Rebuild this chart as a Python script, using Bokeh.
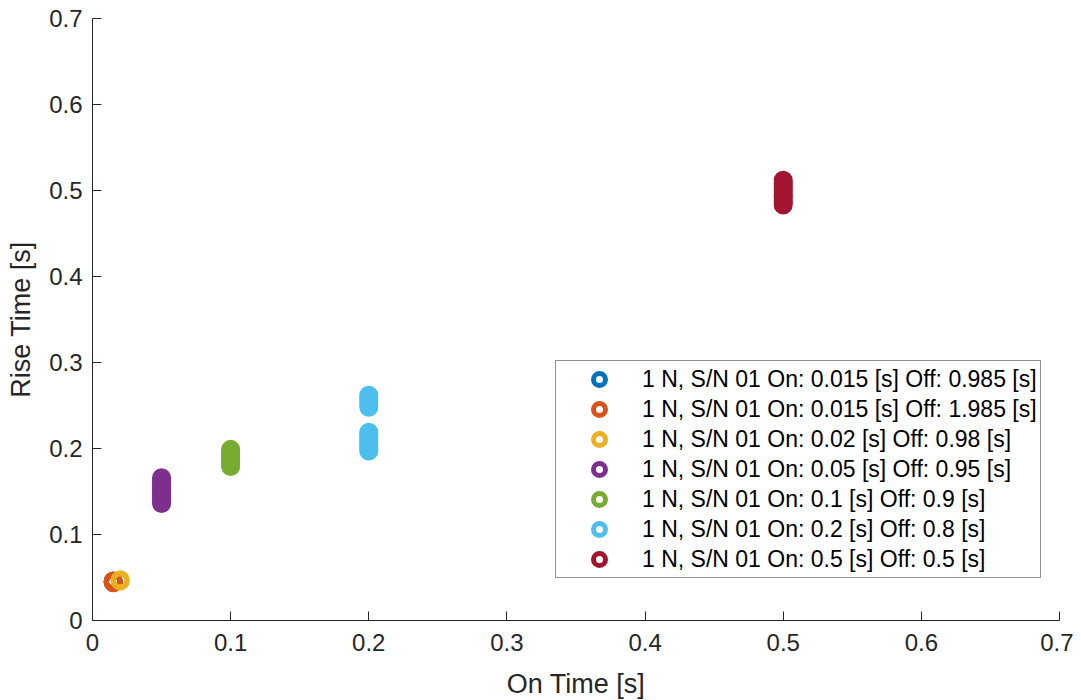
from bokeh.plotting import figure
from bokeh.models import Range1d, FixedTicker, Legend, LegendItem
from bokeh.embed import file_html
from bokeh.resources import INLINE

# ---- data ----
series_labels = [
    "1 N, S/N 01 On: 0.015 [s] Off: 0.985 [s]",
    "1 N, S/N 01 On: 0.015 [s] Off: 1.985 [s]",
    "1 N, S/N 01 On: 0.02 [s] Off: 0.98 [s]",
    "1 N, S/N 01 On: 0.05 [s] Off: 0.95 [s]",
    "1 N, S/N 01 On: 0.1 [s] Off: 0.9 [s]",
    "1 N, S/N 01 On: 0.2 [s] Off: 0.8 [s]",
    "1 N, S/N 01 On: 0.5 [s] Off: 0.5 [s]",
]
series_colors = ["#0072BD", "#D95319", "#EDB120", "#7E2F8E", "#77AC30", "#4DBEEE", "#A2142F"]
on_times = [0.015, 0.015, 0.02, 0.05, 0.1, 0.2, 0.5]

rise_s1 = [0.045, 0.046, 0.045]
rise_s2 = [0.045, 0.046, 0.044]
rise_s3 = [0.047, 0.046, 0.047]
rise_s4 = [0.136, 0.138, 0.141, 0.143, 0.146, 0.148, 0.151, 0.153, 0.156, 0.159,
           0.161, 0.163, 0.166]
rise_s5 = [0.179, 0.181, 0.184, 0.186, 0.189, 0.191, 0.194, 0.196, 0.199]
rise_s6 = [0.197, 0.199, 0.202, 0.204, 0.207, 0.209, 0.212, 0.214, 0.217, 0.219,
           0.248, 0.251, 0.253, 0.256, 0.259, 0.262]
rise_s7 = [0.483, 0.486, 0.488, 0.491, 0.494, 0.496, 0.499, 0.502, 0.504, 0.507,
           0.509, 0.512]
rise_values = [rise_s1, rise_s2, rise_s3, rise_s4, rise_s5, rise_s6, rise_s7]

tick_values = [0, 0.1, 0.2, 0.3, 0.4, 0.5, 0.6, 0.7]
tick_labels = ["0", "0.1", "0.2", "0.3", "0.4", "0.5", "0.6", "0.7"]

FONT = "Liberation Sans"
AX = "#262626"

p = figure(frame_width=967, frame_height=602,
           x_range=Range1d(0, 0.7), y_range=Range1d(0, 0.7),
           output_backend="svg", toolbar_location=None,
           min_border_left=92, min_border_top=18, min_border_right=14, min_border_bottom=70,
           x_axis_label="On Time [s]", y_axis_label="Rise Time [s]")
p.grid.visible = False
p.outline_line_color = None
p.background_fill_color = "white"
p.border_fill_color = "white"

overrides = {v: l for v, l in zip(tick_values, tick_labels)}
for ax in (p.xaxis[0], p.yaxis[0]):
    ax.ticker = FixedTicker(ticks=tick_values)
    ax.major_label_overrides = overrides
    ax.minor_tick_line_color = None
    ax.major_tick_in = 9
    ax.major_tick_out = 0
    ax.axis_line_color = AX
    ax.major_tick_line_color = AX
    ax.axis_line_width = 1
    ax.major_label_text_font = FONT
    ax.major_label_text_font_size = "24px"
    ax.major_label_text_color = AX
    ax.axis_label_text_font = FONT
    ax.axis_label_text_font_size = "27px"
    ax.axis_label_text_font_style = "normal"
    ax.axis_label_text_color = AX
    ax.major_label_standoff = 10
p.xaxis[0].major_label_standoff = 13
p.xaxis[0].axis_label_standoff = 15
p.yaxis[0].axis_label_standoff = 10

items = []
for lab, col, xo, ys in zip(series_labels, series_colors, on_times, rise_values):
    r = p.scatter([xo] * len(ys), ys, size=14, marker="circle",
                  fill_color=None, line_color=col, line_width=5)
    items.append(LegendItem(label=lab, renderers=[r]))

legend = Legend(items=items, location=(463, 42), margin=0, padding=3,
                glyph_width=80, glyph_height=30, label_height=30, spacing=0,
                label_standoff=3, label_text_font=FONT, label_text_font_size="23px",
                label_text_color="#000000", border_line_color=AX, border_line_width=1,
                background_fill_color="white", background_fill_alpha=1.0)
p.add_layout(legend, "center")

open("out.html", "w").write(file_html(p, INLINE))
